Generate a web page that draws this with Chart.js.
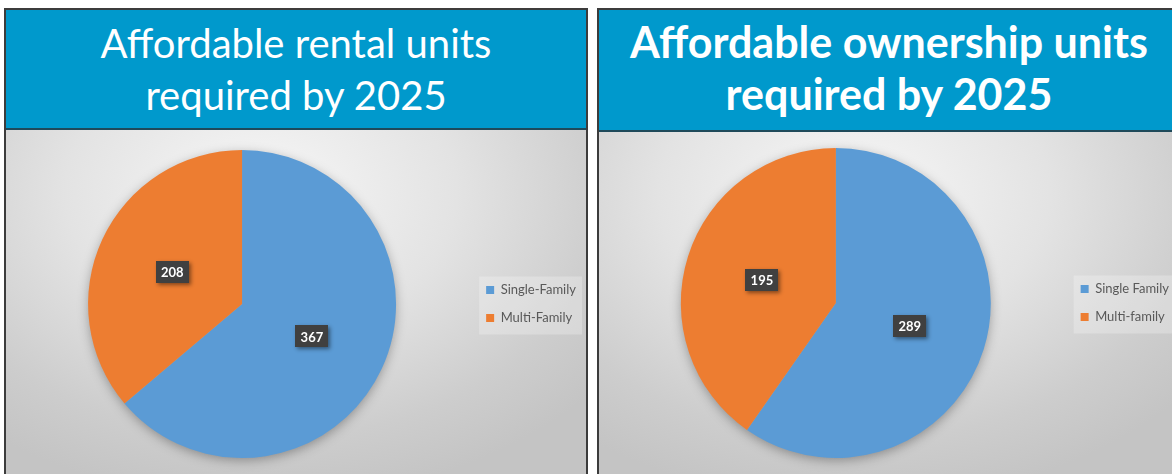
<!DOCTYPE html>
<html>
<head>
<meta charset="utf-8">
<script src="https://cdn.jsdelivr.net/npm/chart.js@4.4.1/dist/chart.umd.min.js"></script>
<style>
  html, body { margin: 0; padding: 0; background: #fff; }
  body { width: 1172px; height: 474px; overflow: hidden; position: relative; }
  .panel {
    position: absolute; top: 8px; width: 584px; height: 480px;
    box-sizing: border-box; border: 2px solid #3c3c3c; border-bottom: none;
  }
  .banner {
    background: #0099cc; border-bottom: 2px solid #1f4a5a;
    color: #fff; font-family: Lato, sans-serif; font-size: 40px; line-height: 52px;
    text-align: center; box-sizing: border-box; padding-top: 7px;
  }
  .banner.bold { font-weight: bold; font-size: 43px; padding-top: 6px; }
  .plot {
    position: relative; width: 580px; height: 344px;
    background: radial-gradient(ellipse 75% 90% at 44% 18%, #f7f7f7 0%, #e3e3e3 45%, #cdcdcd 80%, #c4c4c4 100%);
  }
</style>
</head>
<body>
<div class="panel" style="left:4px">
  <div class="banner" style="height:120px">Affordable rental units<br>required by 2025</div>
  <div class="plot"><canvas id="rental" width="580" height="344"></canvas></div>
</div>
<div class="panel" style="left:597px">
  <div class="banner bold" style="height:122px">Affordable ownership units<br>required by 2025</div>
  <div class="plot"><canvas id="owner" width="580" height="344"></canvas></div>
</div>
<script>
const rentalLabels = ['Single-Family', 'Multi-Family']
const rentalValues = [367, 208]
const ownerLabels = ['Single Family', 'Multi-family']
const ownerValues = [289, 195]
const sliceColors = ['#5B9BD5', '#ED7D31']

// soft shadow under the whole pie
const pieShadow = {
  id: 'pieShadow',
  beforeDatasetsDraw(chart) {
    const arc = chart.getDatasetMeta(0).data[0]
    if (!arc) return
    const ctx = chart.ctx
    ctx.save()
    ctx.shadowColor = 'rgba(0,0,0,0.35)'
    ctx.shadowBlur = 12
    ctx.shadowOffsetY = 3
    ctx.fillStyle = '#aaa'
    ctx.beginPath()
    ctx.arc(arc.x, arc.y, arc.outerRadius - 1, 0, Math.PI * 2)
    ctx.fill()
    ctx.restore()
  }
}

// light box behind the legend
const legendBox = {
  id: 'legendBox',
  beforeDraw(chart) {
    const boxes = chart.legend && chart.legend.legendHitBoxes
    if (!boxes || !boxes.length) return
    const first = boxes[0], last = boxes[boxes.length - 1]
    const right = Math.max(...boxes.map(b => b.left + b.width))
    const ctx = chart.ctx
    ctx.save()
    ctx.fillStyle = 'rgba(255,255,255,0.25)'
    ctx.fillRect(first.left - 7, first.top - 7, right - first.left + 13, last.top + last.height + 10 - (first.top - 7))
    ctx.restore()
  }
}

// dark value boxes in the middle of each slice
const valueBoxes = {
  id: 'valueBoxes',
  afterDatasetsDraw(chart) {
    const ctx = chart.ctx
    const values = chart.data.datasets[0].data
    chart.getDatasetMeta(0).data.forEach((arc, i) => {
      const p = arc.tooltipPosition()
      const w = 33, h = 22
      ctx.save()
      ctx.shadowColor = 'rgba(0,0,0,0.45)'
      ctx.shadowBlur = 4
      ctx.shadowOffsetX = 2
      ctx.shadowOffsetY = 2
      ctx.fillStyle = '#404040'
      ctx.fillRect(Math.round(p.x - w / 2), Math.round(p.y - h / 2), w, h)
      ctx.restore()
      ctx.save()
      ctx.fillStyle = '#fff'
      ctx.font = 'bold 13px Lato, sans-serif'
      ctx.textAlign = 'center'
      ctx.textBaseline = 'middle'
      ctx.fillText(String(values[i]), p.x, p.y + 1)
      ctx.restore()
    })
  }
}

function makePie(id, labels, values, pad) {
  const ctx = document.getElementById(id).getContext('2d')
  return new Chart(ctx, {
    type: 'pie',
    data: {
      labels: labels,
      datasets: [{
        data: values,
        backgroundColor: sliceColors,
        borderWidth: 0,
      }]
    },
    options: {
      responsive: false,
      animation: false,
      layout: { padding: pad },
      plugins: {
        legend: {
          position: 'right',
          labels: {
            boxWidth: 8,
            boxHeight: 8,
            padding: 15,
            color: '#595959',
            font: { family: 'Lato, sans-serif', size: 13 },
          }
        },
        tooltip: { enabled: false },
      }
    },
    plugins: [legendBox, pieShadow, valueBoxes]
  })
}

makePie('rental', rentalLabels, rentalValues, { top: 20, bottom: 16, left: 7, right: 0 })
makePie('owner', ownerLabels, ownerValues, { top: 16, bottom: 18, left: 7, right: 0 })
</script>
</body>
</html>
